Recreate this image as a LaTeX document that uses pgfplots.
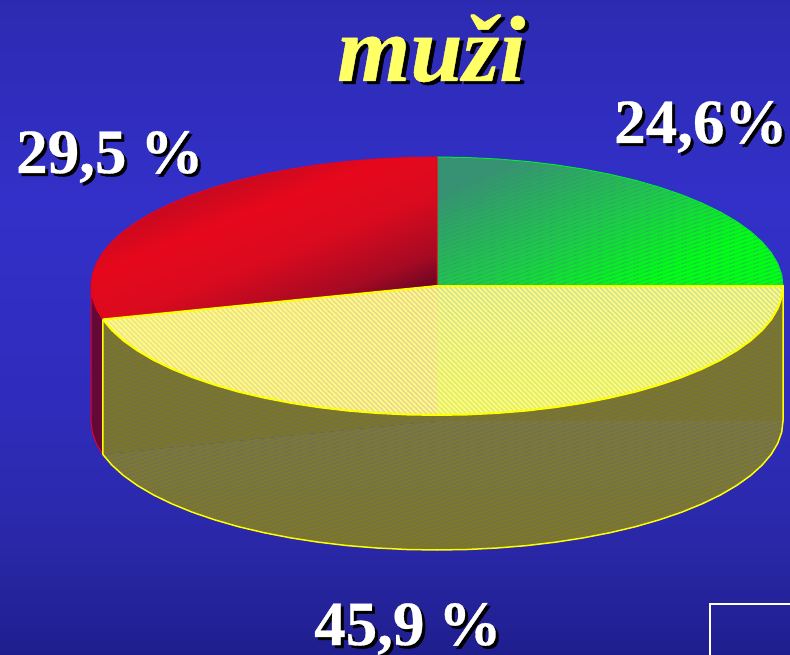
\documentclass[border=0pt]{standalone}
\usepackage{pgfplots}
\pgfplotsset{compat=1.18}
\usepackage{fontspec}
\setmainfont{Liberation Serif}
\newfontface\numf[FakeBold=0.5]{Liberation Serif Bold}
\newfontface\titf[FakeBold=0.5]{Liberation Serif Bold Italic}
\usetikzlibrary{patterns}
\definecolor{bgt}{RGB}{45,42,178}
\definecolor{bga}{RGB}{50,48,200}
\definecolor{bgb}{RGB}{47,44,188}
\definecolor{bgc}{RGB}{42,40,168}
\definecolor{bgd}{RGB}{31,30,142}
\pgfdeclareverticalshading{bgsh}{100bp}{color(0bp)=(bgd); color(25bp)=(bgd); color(33.8bp)=(bgc); color(44.5bp)=(bgb); color(59.7bp)=(bga); color(75bp)=(bgt); color(100bp)=(bgt)}
\definecolor{rdk}{RGB}{105,5,35}
\definecolor{rmd}{RGB}{165,10,35}
\definecolor{rhi}{RGB}{218,10,30}
\definecolor{rbr}{RGB}{230,8,28}
\definecolor{rup}{RGB}{165,10,35}
\pgfdeclareverticalshading{redsh}{100bp}{color(0bp)=(rdk); color(25bp)=(rdk); color(32bp)=(rmd); color(45bp)=(rhi); color(57bp)=(rbr); color(75bp)=(rup); color(100bp)=(rup)}
\definecolor{gtl}{RGB}{55,145,115}
\definecolor{gmd}{RGB}{30,200,75}
\definecolor{gbr}{RGB}{0,255,20}
\pgfdeclareverticalshading{greensh}{100bp}{color(0bp)=(gbr); color(25bp)=(gbr); color(32bp)=(gbr); color(52bp)=(gmd); color(75bp)=(gtl); color(100bp)=(gtl)}
\definecolor{yrt}{RGB}{208,225,150}
\definecolor{yrb}{RGB}{225,240,95}
\definecolor{ylr}{RGB}{232,212,148}
\definecolor{yll}{RGB}{238,230,135}
\definecolor{oltop}{RGB}{124,118,42}
\definecolor{ollow}{RGB}{124,120,62}
\definecolor{olbot}{RGB}{126,120,36}
\definecolor{ylin}{RGB}{255,255,0}
\definecolor{stry}{RGB}{255,250,130}
\definecolor{strs}{RGB}{112,112,84}
\definecolor{rside}{RGB}{100,8,55}
\definecolor{redln}{RGB}{235,0,30}
\definecolor{grnln}{RGB}{0,240,40}
\definecolor{ytext}{RGB}{255,255,102}
\pgfdeclarepatternformonly{stripesnw}{\pgfqpoint{-2pt}{-2pt}}{\pgfqpoint{7pt}{7pt}}{\pgfqpoint{5pt}{5pt}}{%
  \pgfsetlinewidth{1.3pt}%
  \pgfpathmoveto{\pgfqpoint{-2pt}{7pt}}\pgfpathlineto{\pgfqpoint{7pt}{-2pt}}\pgfusepath{stroke}%
  \pgfpathmoveto{\pgfqpoint{3pt}{7pt}}\pgfpathlineto{\pgfqpoint{7pt}{3pt}}\pgfusepath{stroke}%
  \pgfpathmoveto{\pgfqpoint{-2pt}{2pt}}\pgfpathlineto{\pgfqpoint{2pt}{-2pt}}\pgfusepath{stroke}}
\pgfdeclarepatternformonly{stripesne}{\pgfqpoint{-3pt}{-3pt}}{\pgfqpoint{15pt}{7pt}}{\pgfqpoint{12pt}{4pt}}{%
  \pgfsetlinewidth{0.7pt}%
  \pgfpathmoveto{\pgfqpoint{-3pt}{-1pt}}\pgfpathlineto{\pgfqpoint{15pt}{5pt}}\pgfusepath{stroke}}
\newcommand{\lbl}[3]{% x, y, text
  \node[anchor=base west,inner sep=0pt,text=black] at (axis cs:#1+3,#2+3) {\fontsize{63}{64}\numf #3};
  \node[anchor=base west,inner sep=0pt,text=white] at (axis cs:#1,#2) {\fontsize{63}{64}\numf #3};}
\begin{document}
\begin{tikzpicture}
\begin{axis}[name=ax,scale only axis,width=790pt,height=655pt,xmin=0,xmax=790,ymin=0,ymax=655,y dir=reverse,hide axis,enlargelimits=false]
% background
\addplot[draw=none,shade,shading=bgsh] coordinates {(0,0)(790,0)(790,655)(0,655)(0,0)};
\addplot[draw=white,line width=1.3pt] coordinates {(710,660)(710,604)(795,604)};
% red side
\addplot[fill=rside,draw=redln,line width=1pt] coordinates {(102.8,319.4)(96.3,308.4)(92.3,297.2)(91,286)(91,421)(92.3,432.2)(96.3,443.4)(102.8,454.4)(102.8,319.4)};
% green top
\addplot[shade,shading=greensh,shading angle=25,draw=grnln,line width=1pt,line join=round] coordinates {(437,286)(437,157)(467.2,157.5)(497.1,159)(526.6,161.4)(555.3,164.8)(583.2,169.1)(610,174.3)(635.5,180.3)(659.4,187.2)(681.7,194.8)(702,203.1)(720.4,212)(736.6,221.5)(750.6,231.5)(762.1,241.9)(771.2,252.6)(777.7,263.6)(781.7,274.8)(783,286)(437,286)};
\addplot[draw=none,pattern=stripesne,pattern color=gtl,opacity=0.35] coordinates {(437,286)(437,157)(467.2,157.5)(497.1,159)(526.6,161.4)(555.3,164.8)(583.2,169.1)(610,174.3)(635.5,180.3)(659.4,187.2)(681.7,194.8)(702,203.1)(720.4,212)(736.6,221.5)(750.6,231.5)(762.1,241.9)(771.2,252.6)(777.7,263.6)(781.7,274.8)(783,286)(437,286)};
% red top
\addplot[shade,shading=redsh,shading angle=21.5,draw=redln,line width=1pt,line join=round] coordinates {(437,286)(102.8,319.4)(96.3,308.4)(92.3,297.2)(91,286)(92.3,274.8)(96.3,263.6)(102.8,252.6)(111.9,241.9)(123.4,231.5)(137.4,221.5)(153.6,212)(172,203.1)(192.3,194.8)(214.6,187.2)(238.5,180.3)(264,174.3)(290.8,169.1)(318.7,164.8)(347.4,161.4)(376.9,159)(406.8,157.5)(437,157)(437,286)};
% yellow side, upper
\addplot[fill=oltop,draw=none] coordinates {(783,286)(781.7,297.2)(777.7,308.4)(771.2,319.4)(762.1,330.1)(750.6,340.5)(736.6,350.5)(720.4,360)(702,368.9)(681.7,377.2)(659.4,384.8)(635.5,391.7)(610,397.7)(583.2,402.9)(555.3,407.2)(526.6,410.6)(497.1,413)(467.2,414.5)(437,415)(406.8,414.5)(376.9,413)(347.4,410.6)(318.7,407.2)(290.8,402.9)(264,397.7)(238.5,391.7)(214.6,384.8)(192.3,377.2)(172,368.9)(153.6,360)(137.4,350.5)(123.4,340.5)(111.9,330.1)(102.8,319.4)(102.8,454.4)(437,421)(783,421)(783,286)};
% yellow side, lower
\addplot[shade,top color=ollow,bottom color=olbot,draw=none] coordinates {(783,421)(781.7,432.2)(777.7,443.4)(771.2,454.4)(762.1,465.1)(750.6,475.5)(736.6,485.5)(720.4,495)(702,503.9)(681.7,512.2)(659.4,519.8)(635.5,526.7)(610,532.7)(583.2,537.9)(555.3,542.2)(526.6,545.6)(497.1,548)(467.2,549.5)(437,550)(406.8,549.5)(376.9,548)(347.4,545.6)(318.7,542.2)(290.8,537.9)(264,532.7)(238.5,526.7)(214.6,519.8)(192.3,512.2)(172,503.9)(153.6,495)(137.4,485.5)(123.4,475.5)(111.9,465.1)(102.8,454.4)(437,421)(783,421)};
% yellow side hatch and outline
\addplot[draw=none,pattern=stripesne,pattern color=strs] coordinates {(783,286)(783,421)(781.7,432.2)(777.7,443.4)(771.2,454.4)(762.1,465.1)(750.6,475.5)(736.6,485.5)(720.4,495)(702,503.9)(681.7,512.2)(659.4,519.8)(635.5,526.7)(610,532.7)(583.2,537.9)(555.3,542.2)(526.6,545.6)(497.1,548)(467.2,549.5)(437,550)(406.8,549.5)(376.9,548)(347.4,545.6)(318.7,542.2)(290.8,537.9)(264,532.7)(238.5,526.7)(214.6,519.8)(192.3,512.2)(172,503.9)(153.6,495)(137.4,485.5)(123.4,475.5)(111.9,465.1)(102.8,454.4)(102.8,319.4)(437,286)(783,286)};
\addplot[draw=ylin,line width=1.5pt,line join=round] coordinates {(783,286)(783,421)(781.7,432.2)(777.7,443.4)(771.2,454.4)(762.1,465.1)(750.6,475.5)(736.6,485.5)(720.4,495)(702,503.9)(681.7,512.2)(659.4,519.8)(635.5,526.7)(610,532.7)(583.2,537.9)(555.3,542.2)(526.6,545.6)(497.1,548)(467.2,549.5)(437,550)(406.8,549.5)(376.9,548)(347.4,545.6)(318.7,542.2)(290.8,537.9)(264,532.7)(238.5,526.7)(214.6,519.8)(192.3,512.2)(172,503.9)(153.6,495)(137.4,485.5)(123.4,475.5)(111.9,465.1)(102.8,454.4)(102.8,319.4)};
% yellow top, right part
\addplot[shade,top color=yrt,bottom color=yrb,draw=none] coordinates {(437,286)(783,286)(781.7,297.2)(777.7,308.4)(771.2,319.4)(762.1,330.1)(750.6,340.5)(736.6,350.5)(720.4,360)(702,368.9)(681.7,377.2)(659.4,384.8)(635.5,391.7)(610,397.7)(583.2,402.9)(555.3,407.2)(526.6,410.6)(497.1,413)(467.2,414.5)(437,415)(437,286)};
% yellow top, left part
\addplot[shade,left color=yll,right color=ylr,draw=none] coordinates {(437,286)(437,415)(406.8,414.5)(376.9,413)(347.4,410.6)(318.7,407.2)(290.8,402.9)(264,397.7)(238.5,391.7)(214.6,384.8)(192.3,377.2)(172,368.9)(153.6,360)(137.4,350.5)(123.4,340.5)(111.9,330.1)(102.8,319.4)(437,286)};
% yellow top hatch and outline
\addplot[draw=none,pattern=stripesnw,pattern color=stry] coordinates {(102.8,319.4)(437,286)(783,286)(781.7,297.2)(777.7,308.4)(771.2,319.4)(762.1,330.1)(750.6,340.5)(736.6,350.5)(720.4,360)(702,368.9)(681.7,377.2)(659.4,384.8)(635.5,391.7)(610,397.7)(583.2,402.9)(555.3,407.2)(526.6,410.6)(497.1,413)(467.2,414.5)(437,415)(406.8,414.5)(376.9,413)(347.4,410.6)(318.7,407.2)(290.8,402.9)(264,397.7)(238.5,391.7)(214.6,384.8)(192.3,377.2)(172,368.9)(153.6,360)(137.4,350.5)(123.4,340.5)(111.9,330.1)(102.8,319.4)};
\addplot[draw=ylin,line width=2pt,line join=round] coordinates {(102.8,319.4)(437,286)(783,286)(781.7,297.2)(777.7,308.4)(771.2,319.4)(762.1,330.1)(750.6,340.5)(736.6,350.5)(720.4,360)(702,368.9)(681.7,377.2)(659.4,384.8)(635.5,391.7)(610,397.7)(583.2,402.9)(555.3,407.2)(526.6,410.6)(497.1,413)(467.2,414.5)(437,415)(406.8,414.5)(376.9,413)(347.4,410.6)(318.7,407.2)(290.8,402.9)(264,397.7)(238.5,391.7)(214.6,384.8)(192.3,377.2)(172,368.9)(153.6,360)(137.4,350.5)(123.4,340.5)(111.9,330.1)(102.8,319.4)};
% texts
\node[anchor=base west,inner sep=0pt,text=black] at (axis cs:341,84) {\fontsize{94}{94}\titf muži};
\node[anchor=base west,inner sep=0pt,text=ytext] at (axis cs:337,81) {\fontsize{94}{94}\titf muži};
\lbl{16}{173}{29,5\hspace{14pt}\%}
\lbl{614}{143}{24,6\%}
\lbl{314}{645}{45,9\hspace{14pt}\%}
\end{axis}
\pgfresetboundingbox
\path[use as bounding box] (ax.south west) rectangle (ax.north east);
\end{tikzpicture}
\end{document}
